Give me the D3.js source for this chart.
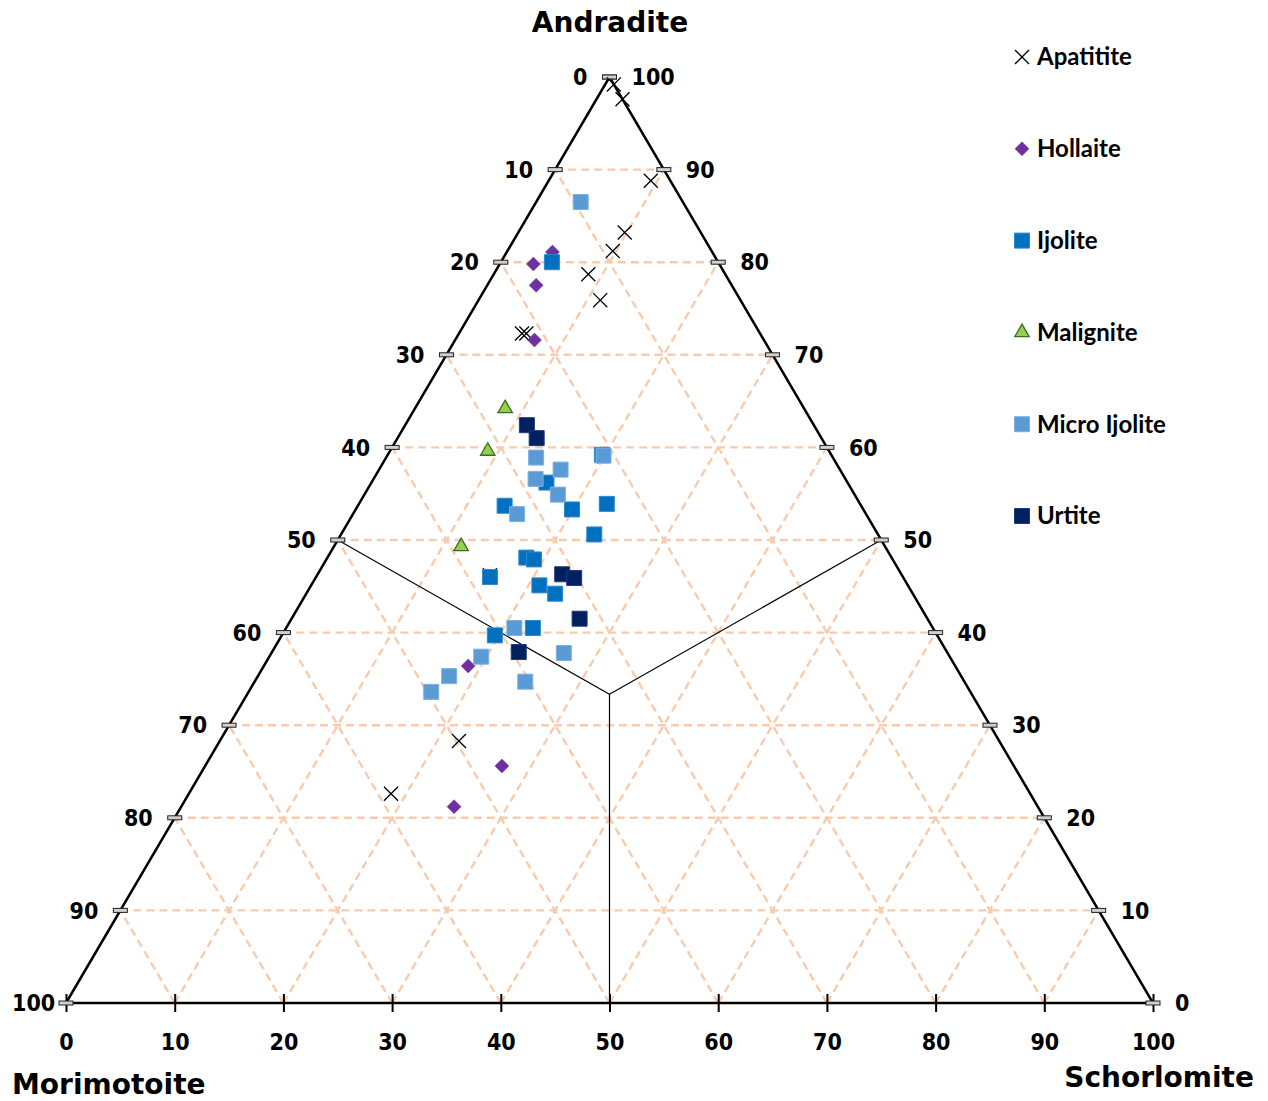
<!DOCTYPE html>
<html lang="en">
<head>
<meta charset="UTF-8">
<title>Garnet ternary diagram</title>
<script src="https://cdn.jsdelivr.net/npm/d3@7"></script>
<style>
  body { margin: 0; background: #fff; }
  .tick-label { font-family: "DejaVu Sans Condensed", "DejaVu Sans", sans-serif; font-stretch: condensed; font-weight: bold; font-size: 23px; fill: #000; }
  .axis-title { font-family: "DejaVu Sans", sans-serif; font-weight: bold; font-size: 28px; fill: #000; }
  .legend text { font-family: Lato, sans-serif; font-weight: bold; font-size: 24px; fill: #000; }
</style>
</head>
<body>
<svg id="chart" width="1268" height="1101"></svg>
<script>
// each point is [Morimotoite, Andradite, Schorlomite] in %
const axisNames = ['Morimotoite', 'Andradite', 'Schorlomite'];
const tickValues = d3.range(0, 101, 10);
const seriesNames = ['Apatitite', 'Hollaite', 'Ijolite', 'Malignite', 'Micro Ijolite', 'Urtite'];

const apatitite = [
  [0, 99.2, 0.8], [0, 97.6, 2.4], [1.8, 88.8, 9.4], [7.0, 83.2, 9.8],
  [9.1, 81.2, 9.7], [12.6, 78.7, 8.7], [12.9, 75.9, 11.2], [21.9, 72.3, 5.8],
  [21.5, 72.3, 6.2], [37.9, 46.2, 15.9], [49.7, 28.3, 22.0], [58.8, 22.6, 18.6]
];
const hollaite = [
  [17.1, 79.8, 3.1], [14.7, 81.1, 4.2], [18.0, 77.5, 4.5], [21.1, 71.6, 7.3],
  [44.8, 36.4, 18.8], [47.1, 25.6, 27.3], [53.7, 21.2, 25.1]
];
const ijolite = [
  [15.3, 80.0, 4.7], [21.1, 59.2, 19.7], [27.7, 56.2, 16.1], [26.8, 53.3, 19.9],
  [23.3, 53.9, 22.8], [32.8, 53.7, 13.5], [26.1, 50.6, 23.3], [33.6, 48.1, 18.3],
  [33.0, 47.9, 19.1], [38.0, 46.0, 16.0], [33.9, 45.1, 21.0], [32.9, 44.2, 22.9],
  [36.8, 40.5, 22.7], [40.7, 39.7, 19.6]
];
const malignite = [
  [27.5, 64.2, 8.3], [31.4, 59.6, 9.0], [39.0, 49.3, 11.7]
];
const microIjolite = [
  [9.4, 86.5, 4.1], [27.3, 58.9, 13.8], [21.0, 59.1, 19.9], [25.7, 57.6, 16.7],
  [28.5, 56.6, 14.9], [27.3, 54.9, 17.8], [32.1, 52.8, 15.1], [38.5, 40.5, 21.0],
  [35.3, 37.8, 26.9], [43.1, 37.4, 19.5], [47.1, 35.3, 17.6], [49.6, 33.6, 16.8],
  [40.4, 34.7, 24.9]
];
const urtite = [
  [26.4, 62.4, 11.2], [26.2, 61.0, 12.8], [31.2, 46.3, 22.5], [30.3, 45.9, 23.8],
  [32.0, 41.5, 26.5], [39.4, 37.9, 22.7]
];

const svg = d3.select('#chart');

// x runs along the base (Schorlomite), y up to the apex (Andradite)
const x = d3.scaleLinear().domain([0, 100]).range([66, 1153]);
const y = d3.scaleLinear().domain([0, 100]).range([1003, 77]);
const px = d => x(d[2] + d[1] / 2);
const py = d => y(d[1]);
const line = d3.line().x(px).y(py);

// dashed grid
const grid = [];
d3.range(10, 100, 10).forEach(k => {
  grid.push([[100 - k, k, 0], [0, k, 100 - k]]);
  grid.push([[100 - k, 0, k], [0, 100 - k, k]]);
  grid.push([[k, 0, 100 - k], [k, 100 - k, 0]]);
});
svg.append('g').selectAll('path')
  .data(grid)
  .enter().append('path')
  .attr('d', line)
  .attr('fill', 'none')
  .attr('stroke', '#f8cbad')
  .attr('stroke-width', 2.4)
  .attr('stroke-dasharray', '8,5');

// lines from centre to the side midpoints
const c = [100 / 3, 100 / 3, 100 / 3];
svg.append('g').selectAll('path')
  .data([[c, [50, 50, 0]], [c, [0, 50, 50]], [c, [50, 0, 50]]])
  .enter().append('path')
  .attr('d', line)
  .attr('fill', 'none')
  .attr('stroke', '#000')
  .attr('stroke-width', 1.2);

// triangle outline
svg.append('path')
  .attr('d', line([[100, 0, 0], [0, 100, 0], [0, 0, 100]]) + 'Z')
  .attr('fill', 'none')
  .attr('stroke', '#000')
  .attr('stroke-width', 2.5);

// bottom axis
const xAxis = svg.append('g')
  .attr('transform', `translate(0,${y(0)})`)
  .call(d3.axisBottom(x).tickValues(tickValues).tickSize(9).tickPadding(22).tickFormat(d3.format('d')));
xAxis.select('.domain').remove();
xAxis.selectAll('.tick line').attr('y1', -9).attr('stroke', '#000').attr('stroke-width', 2);
xAxis.selectAll('.tick text').attr('class', 'tick-label');

// side ticks and labels
const sideTicks = svg.append('g');
tickValues.forEach(a => {
  const L = [100 - a, a, 0], R = [0, a, 100 - a];
  [L, R].forEach(p => {
    sideTicks.append('rect')
      .attr('x', px(p) - 7).attr('y', py(p) - 2)
      .attr('width', 14).attr('height', 4)
      .attr('fill', '#d0d0d0').attr('stroke', '#222').attr('stroke-width', 1);
  });
  const lt = sideTicks.append('text')
    .attr('class', 'tick-label')
    .attr('x', px(L) - 22).attr('y', py(L))
    .attr('dy', '0.36em')
    .attr('text-anchor', 'end')
    .text(100 - a);
  if (a === 0) lt.attr('x', 12).attr('text-anchor', 'start');
  sideTicks.append('text')
    .attr('class', 'tick-label')
    .attr('x', px(R) + 22).attr('y', py(R))
    .attr('dy', '0.36em')
    .text(a);
});

// axis titles
svg.append('text').attr('class', 'axis-title')
  .attr('x', 610).attr('y', 32).attr('text-anchor', 'middle').text(axisNames[1]);
svg.append('text').attr('class', 'axis-title')
  .attr('x', 12).attr('y', 1094).text(axisNames[0]);
svg.append('text').attr('class', 'axis-title')
  .attr('x', 1254).attr('y', 1087).attr('text-anchor', 'end').text(axisNames[2]);

// markers
const timesType = d3.symbolTimes || {
  draw(ctx, size) {
    const r = Math.sqrt(size - Math.min(size / 6, 1.7)) * 0.6189;
    ctx.moveTo(-r, -r); ctx.lineTo(r, r);
    ctx.moveTo(-r, r); ctx.lineTo(r, -r);
  }
};
const diamondType = d3.symbolDiamond2 || {
  draw(ctx, size) {
    const r = Math.sqrt(size) * 0.62625;
    ctx.moveTo(0, -r); ctx.lineTo(r, 0); ctx.lineTo(0, r); ctx.lineTo(-r, 0); ctx.closePath();
  }
};

const styles = [
  { data: apatitite, sym: d3.symbol(timesType, 130), fill: 'none', stroke: '#000', sw: 1.3 },
  { data: hollaite, sym: d3.symbol(diamondType, 125), fill: '#7030a0', stroke: '#7030a0', sw: 0.5 },
  { data: ijolite, sym: d3.symbol(d3.symbolSquare, 225), fill: '#0070c0', stroke: '#2f88cc', sw: 1 },
  { data: malignite, sym: d3.symbol(d3.symbolTriangle, 90), fill: '#92d050', stroke: '#3b6e1f', sw: 1.3 },
  { data: microIjolite, sym: d3.symbol(d3.symbolSquare, 225), fill: '#5b9bd5', stroke: '#7cb0e0', sw: 1 },
  { data: urtite, sym: d3.symbol(d3.symbolSquare, 225), fill: '#002060', stroke: '#1f3b78', sw: 1 }
];

styles.forEach(s => {
  svg.append('g').selectAll('path')
    .data(s.data)
    .enter().append('path')
    .attr('transform', d => `translate(${px(d)},${py(d)})`)
    .attr('d', s.sym())
    .attr('fill', s.fill)
    .attr('stroke', s.stroke)
    .attr('stroke-width', s.sw);
});

// legend
const legend = svg.append('g').attr('class', 'legend');
seriesNames.forEach((name, i) => {
  const s = styles[i];
  const row = legend.append('g').attr('transform', `translate(1022,${57 + i * 91.8})`);
  row.append('path')
    .attr('d', s.sym())
    .attr('fill', s.fill)
    .attr('stroke', s.stroke)
    .attr('stroke-width', s.sw);
  row.append('text').attr('x', 15).attr('dy', '0.35em').text(name);
});
</script>
</body>
</html>
